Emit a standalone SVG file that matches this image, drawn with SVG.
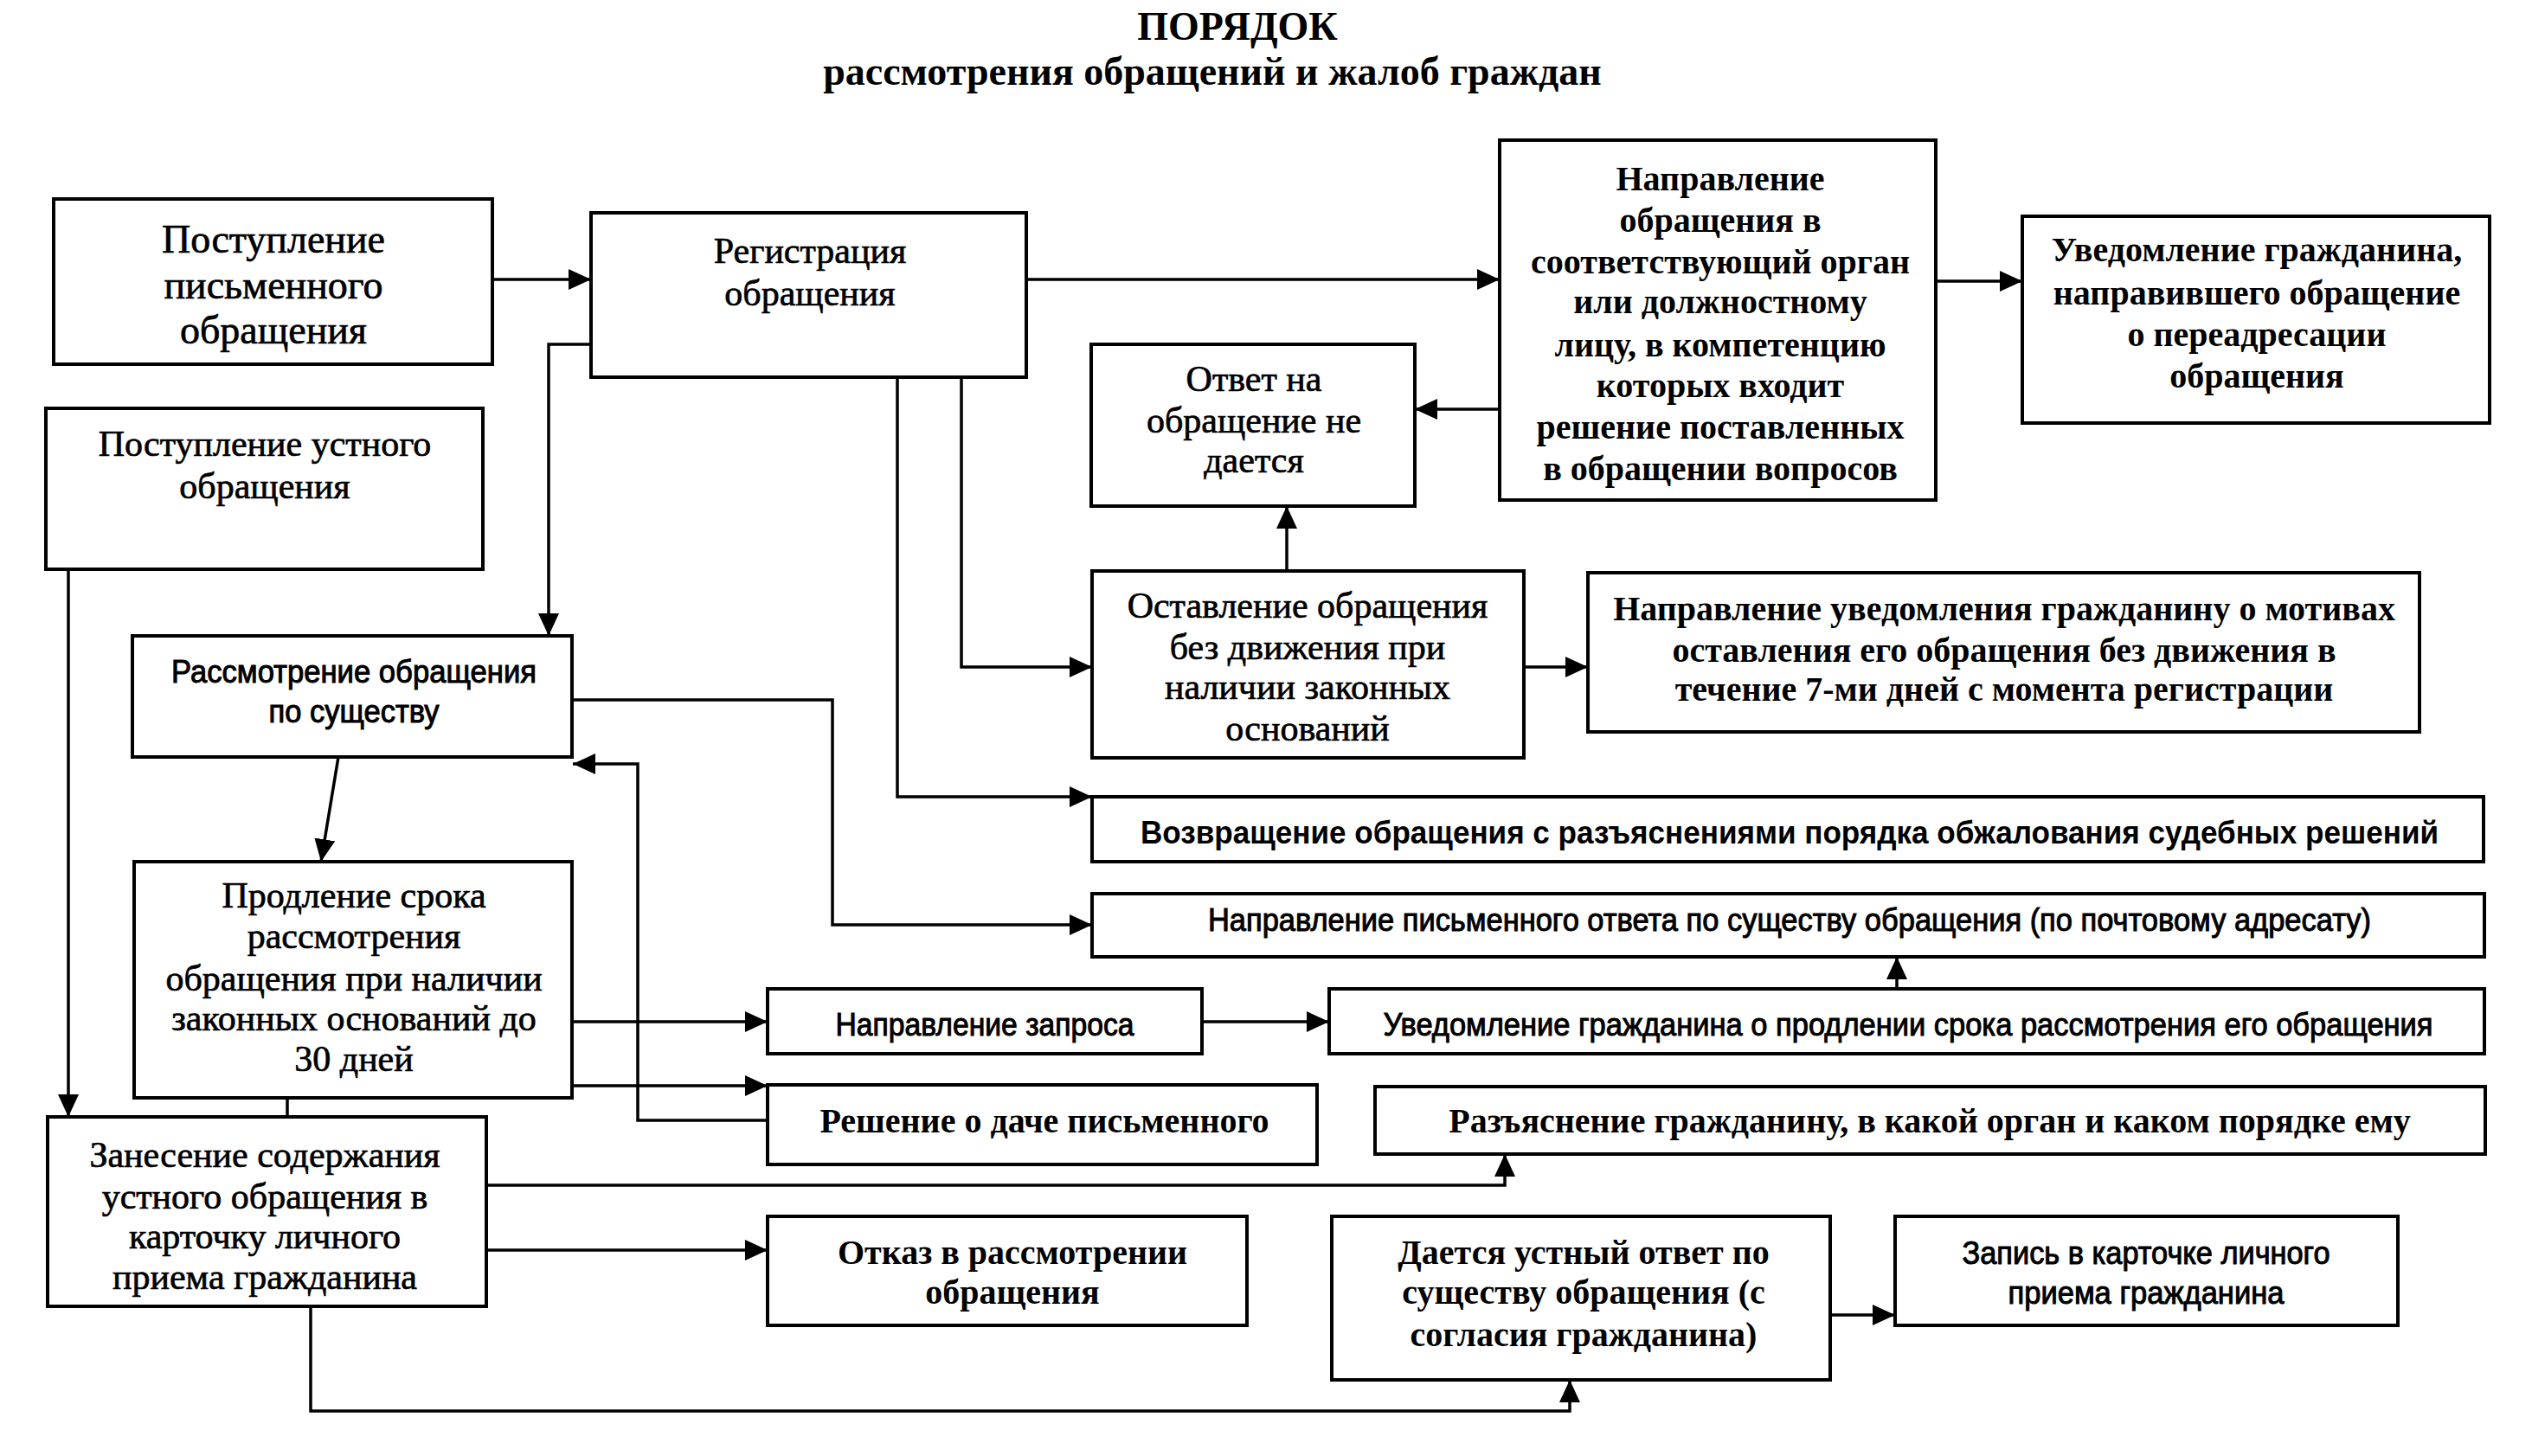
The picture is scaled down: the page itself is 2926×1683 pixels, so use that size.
<svg xmlns="http://www.w3.org/2000/svg" width="2926" height="1683" viewBox="0 0 2926 1683">
<style>
.box{fill:#fff;stroke:#000;stroke-width:4}
.conn{fill:none;stroke:#000;stroke-width:3.5}
.t{font-family:"Liberation Serif","Times New Roman",serif;font-size:42px;text-anchor:middle;fill:#000;stroke:#000;stroke-width:0.7}
.tb{font-family:"Liberation Serif","Times New Roman",serif;font-size:40px;font-weight:bold;text-anchor:middle;fill:#000}
.s{font-family:"Liberation Sans",Arial,sans-serif;font-size:36px;text-anchor:middle;fill:#000;stroke:#000;stroke-width:1}
.sb{font-family:"Liberation Sans",Arial,sans-serif;font-size:36px;font-weight:bold;text-anchor:middle;fill:#000}
.title{font-family:"Liberation Serif","Times New Roman",serif;font-weight:bold;font-size:46px;text-anchor:middle;fill:#000}
</style>
<defs>
<marker id="ah" markerUnits="userSpaceOnUse" markerWidth="26" markerHeight="24" refX="26" refY="12" orient="auto" viewBox="0 0 26 24">
<path d="M0,0 L26,12 L0,24 z" fill="#000"/>
</marker>
</defs>
<rect width="2926" height="1683" fill="#fff"/>
<g id="title">
<text class="title" x="1430" y="46">ПОРЯДОК</text>
<text class="title" x="1401" y="98">рассмотрения обращений и жалоб граждан</text>
</g>
<g id="connectors">
<path class="conn" marker-end="url(#ah)" d="M569,323 H683"/>
<path class="conn" marker-end="url(#ah)" d="M1186,323 H1733"/>
<path class="conn" marker-end="url(#ah)" d="M2237,325 H2337"/>
<path class="conn" marker-end="url(#ah)" d="M1733,473 H1635"/>
<path class="conn" marker-end="url(#ah)" d="M1487,660 V585"/>
<path class="conn" marker-end="url(#ah)" d="M1761,771 H1835"/>
<path class="conn" marker-end="url(#ah)" d="M1111,436 V771 H1262"/>
<path class="conn" marker-end="url(#ah)" d="M1037,436 V921 H1262"/>
<path class="conn" marker-end="url(#ah)" d="M683,398 H634 V735"/>
<path class="conn" marker-end="url(#ah)" d="M79,658 V1291"/>
<path class="conn" marker-end="url(#ah)" d="M391,875 L371,996"/>
<path class="conn" marker-end="url(#ah)" d="M662,809 H962 V1069 H1262"/>
<path class="conn" marker-end="url(#ah)" d="M887,1295 H737 V883 H662"/>
<path class="conn" marker-end="url(#ah)" d="M662,1181 H887"/>
<path class="conn" marker-end="url(#ah)" d="M332,1291 V1255 H887"/>
<path class="conn" marker-end="url(#ah)" d="M1389,1181 H1536"/>
<path class="conn" marker-end="url(#ah)" d="M2192,1143 V1106"/>
<path class="conn" marker-end="url(#ah)" d="M562,1370 H1739 V1334"/>
<path class="conn" marker-end="url(#ah)" d="M562,1445 H887"/>
<path class="conn" marker-end="url(#ah)" d="M359,1510 V1631 H1814 V1595"/>
<path class="conn" marker-end="url(#ah)" d="M2115,1520 H2190"/>
</g>
<g id="n1">
<rect class="box" x="62" y="230" width="507" height="191"/>
<text class="t" style="font-size:46px"><tspan x="316" y="292">Поступление</tspan><tspan x="316" y="345">письменного</tspan><tspan x="316" y="397">обращения</tspan></text>
</g>
<g id="n2">
<rect class="box" x="683" y="246" width="503" height="190"/>
<text class="t"><tspan x="936" y="304">Регистрация</tspan><tspan x="936" y="353">обращения</tspan></text>
</g>
<g id="n3">
<rect class="box" x="1733" y="162" width="504" height="416"/>
<text class="tb"><tspan x="1988" y="220">Направление</tspan><tspan x="1988" y="268">обращения в</tspan><tspan x="1988" y="316">соответствующий орган</tspan><tspan x="1988" y="362">или должностному</tspan><tspan x="1988" y="412">лицу, в компетенцию</tspan><tspan x="1988" y="459">которых входит</tspan><tspan x="1988" y="507">решение поставленных</tspan><tspan x="1988" y="555">в обращении вопросов</tspan></text>
</g>
<g id="n4">
<rect class="box" x="2337" y="250" width="540" height="239"/>
<text class="tb"><tspan x="2608" y="302">Уведомление гражданина,</tspan><tspan x="2608" y="352">направившего обращение</tspan><tspan x="2608" y="400">о переадресации</tspan><tspan x="2608" y="448">обращения</tspan></text>
</g>
<g id="n5">
<rect class="box" x="1261" y="398" width="374" height="187"/>
<text class="t"><tspan x="1449" y="452">Ответ на</tspan><tspan x="1449" y="500">обращение не</tspan><tspan x="1449" y="546">дается</tspan></text>
</g>
<g id="n6">
<rect class="box" x="53" y="472" width="505" height="186"/>
<text class="t"><tspan x="306" y="527">Поступление устного</tspan><tspan x="306" y="576">обращения</tspan></text>
</g>
<g id="n7">
<rect class="box" x="153" y="735" width="508" height="140"/>
<text class="s"><tspan x="409" y="789" textLength="422" lengthAdjust="spacingAndGlyphs">Рассмотрение обращения</tspan><tspan x="409" y="835" textLength="197" lengthAdjust="spacingAndGlyphs">по существу</tspan></text>
</g>
<g id="n8">
<rect class="box" x="1262" y="660" width="499" height="216"/>
<text class="t"><tspan x="1511" y="714">Оставление обращения</tspan><tspan x="1511" y="762">без движения при</tspan><tspan x="1511" y="808">наличии законных</tspan><tspan x="1511" y="856">оснований</tspan></text>
</g>
<g id="n9">
<rect class="box" x="1835" y="662" width="961" height="184"/>
<text class="tb"><tspan x="2316" y="717">Направление уведомления гражданину о мотивах</tspan><tspan x="2316" y="765">оставления его обращения без движения в</tspan><tspan x="2316" y="810">течение 7-ми дней с момента регистрации</tspan></text>
</g>
<g id="n10">
<rect class="box" x="1262" y="921" width="1608" height="75"/>
<text class="sb" x="2068" y="975" textLength="1500" lengthAdjust="spacingAndGlyphs">Возвращение обращения с разъяснениями порядка обжалования судебных решений</text>
</g>
<g id="n11">
<rect class="box" x="1262" y="1033" width="1609" height="73"/>
<text class="s" x="2068" y="1076" textLength="1344" lengthAdjust="spacingAndGlyphs">Направление письменного ответа по существу обращения (по почтовому адресату)</text>
</g>
<g id="n12">
<rect class="box" x="155" y="996" width="506" height="273"/>
<text class="t"><tspan x="409" y="1049">Продление срока</tspan><tspan x="409" y="1096">рассмотрения</tspan><tspan x="409" y="1145">обращения при наличии</tspan><tspan x="409" y="1191">законных оснований до</tspan><tspan x="409" y="1238">30 дней</tspan></text>
</g>
<g id="n13">
<rect class="box" x="887" y="1143" width="502" height="75"/>
<text class="s" x="1138" y="1197" textLength="345" lengthAdjust="spacingAndGlyphs">Направление запроса</text>
</g>
<g id="n14">
<rect class="box" x="1536" y="1143" width="1335" height="75"/>
<text class="s" x="2205" y="1197" textLength="1213" lengthAdjust="spacingAndGlyphs">Уведомление гражданина о продлении срока рассмотрения его обращения</text>
</g>
<g id="n15">
<rect class="box" x="887" y="1254" width="635" height="92"/>
<text class="tb" x="1207" y="1309">Решение о даче письменного</text>
</g>
<g id="n16">
<rect class="box" x="1589" y="1256" width="1283" height="78"/>
<text class="tb" x="2230" y="1309">Разъяснение гражданину, в какой орган и каком порядке ему</text>
</g>
<g id="n17">
<rect class="box" x="55" y="1291" width="507" height="219"/>
<text class="t"><tspan x="306" y="1349">Занесение содержания</tspan><tspan x="306" y="1397">устного обращения в</tspan><tspan x="306" y="1443">карточку личного</tspan><tspan x="306" y="1490">приема гражданина</tspan></text>
</g>
<g id="n18">
<rect class="box" x="887" y="1406" width="554" height="126"/>
<text class="tb"><tspan x="1170" y="1461">Отказ в рассмотрении</tspan><tspan x="1170" y="1507">обращения</tspan></text>
</g>
<g id="n19">
<rect class="box" x="1539" y="1406" width="576" height="189"/>
<text class="tb"><tspan x="1830" y="1461">Дается устный ответ по</tspan><tspan x="1830" y="1507">существу обращения (с</tspan><tspan x="1830" y="1556">согласия гражданина)</tspan></text>
</g>
<g id="n20">
<rect class="box" x="2190" y="1406" width="581" height="126"/>
<text class="s"><tspan x="2480" y="1461" textLength="425" lengthAdjust="spacingAndGlyphs">Запись в карточке личного</tspan><tspan x="2480" y="1507" textLength="319" lengthAdjust="spacingAndGlyphs">приема гражданина</tspan></text>
</g>
</svg>
